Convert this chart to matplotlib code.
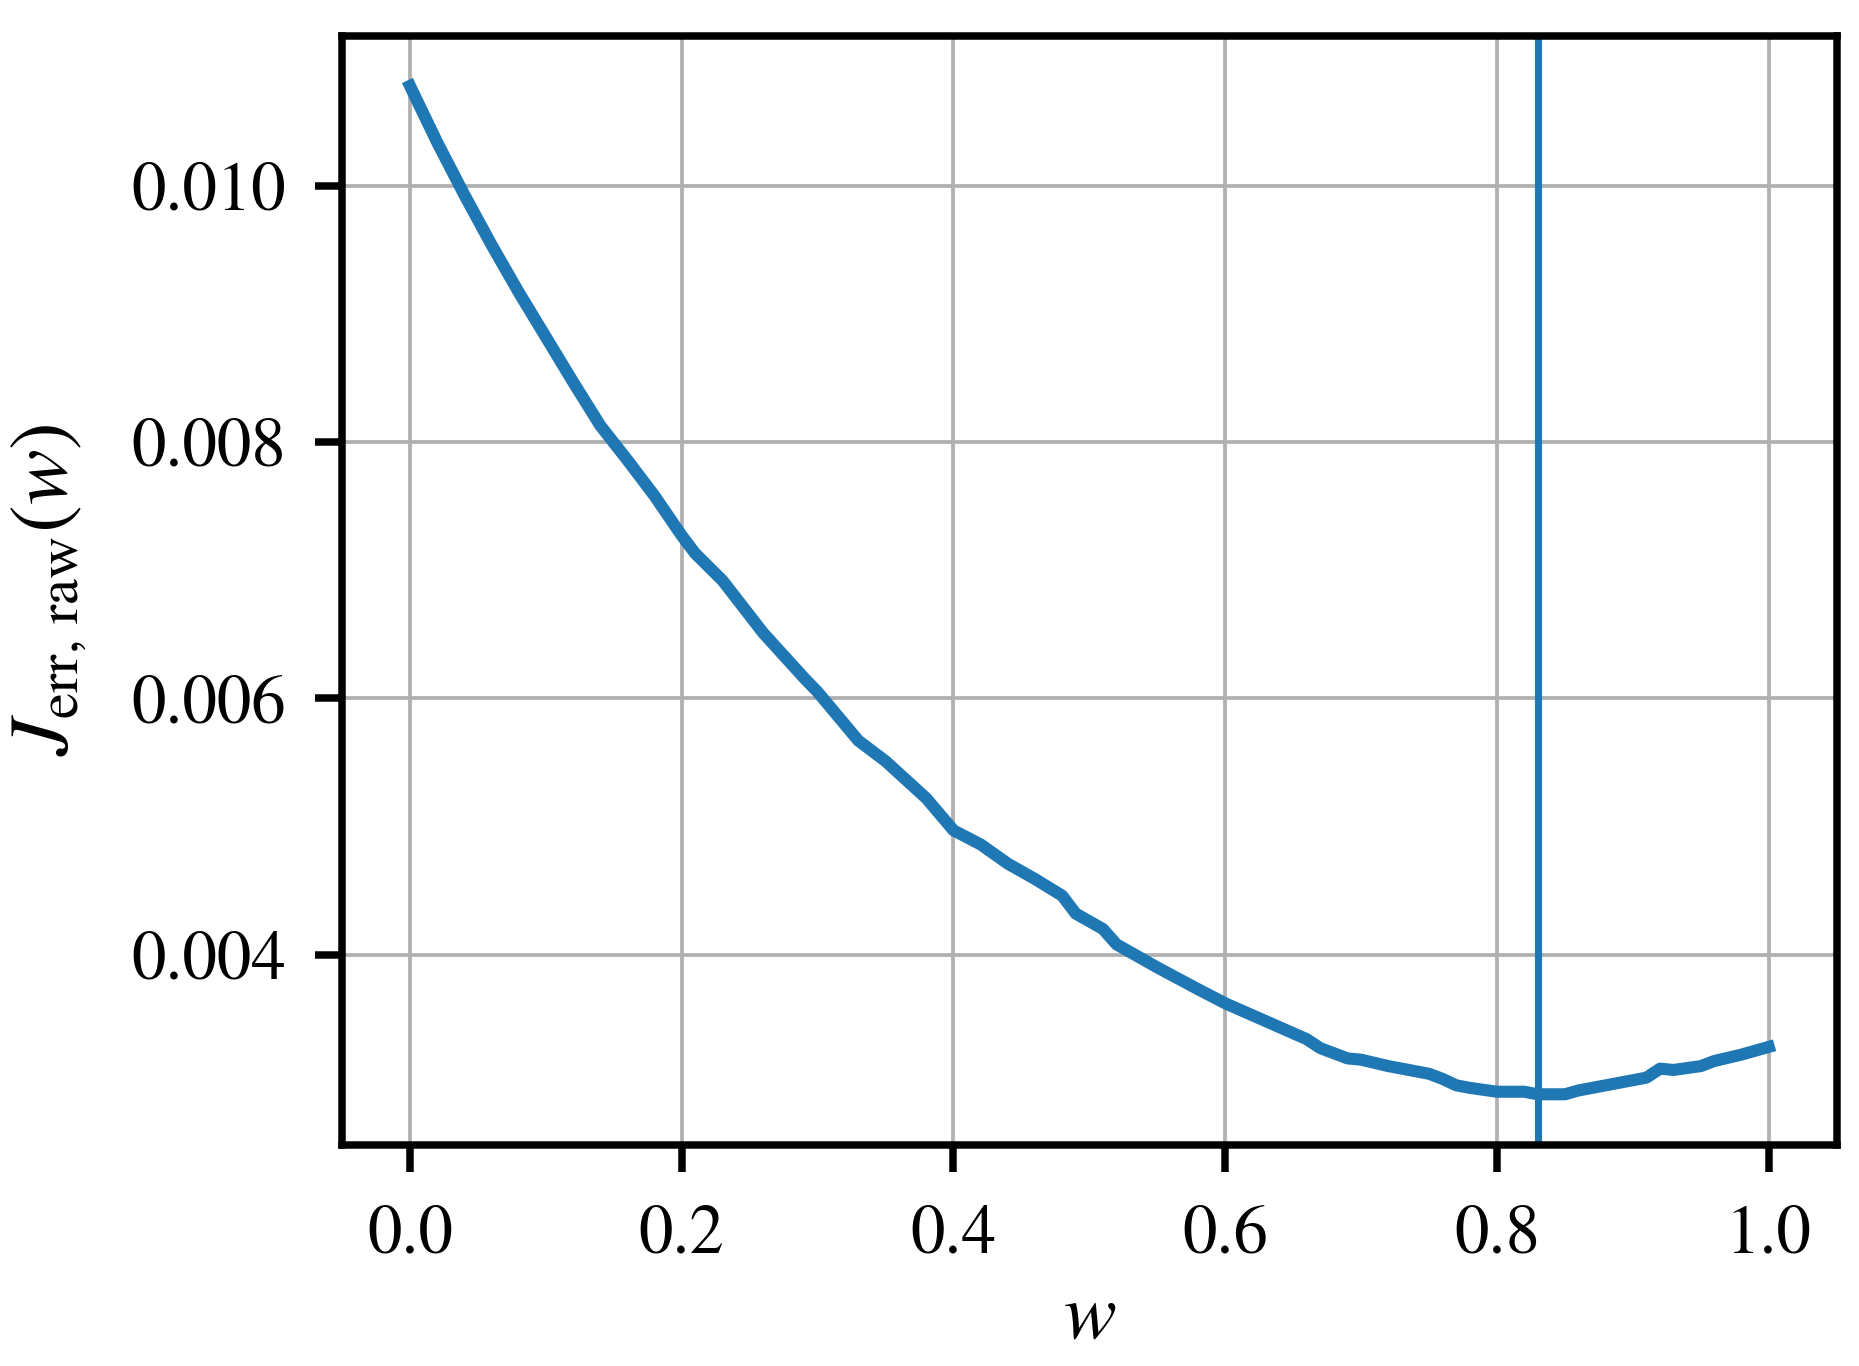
import numpy as np
import matplotlib
matplotlib.use('Agg')
from matplotlib import pyplot as plt

# 読み取った値
w_vals = [0.00, 0.02, 0.04, 0.06, 0.08, 0.10, 0.12, 0.14, 0.16, 0.18,
          0.20, 0.21, 0.23, 0.26, 0.29, 0.30, 0.33, 0.35, 0.38, 0.40,
          0.42, 0.44, 0.46, 0.48, 0.49, 0.51, 0.52, 0.55, 0.58, 0.60,
          0.63, 0.66, 0.67, 0.69, 0.70, 0.72, 0.73, 0.75, 0.76, 0.77,
          0.78, 0.80, 0.82, 0.83, 0.85, 0.86, 0.87, 0.89, 0.91, 0.92,
          0.93, 0.95, 0.96, 0.98, 1.00]
j_vals = [0.01078, 0.01034, 0.00993, 0.00954, 0.00917, 0.00882, 0.00847, 0.00813, 0.00786, 0.00758,
          0.00727, 0.00713, 0.00692, 0.00651, 0.00616, 0.00605, 0.00567, 0.00551, 0.00522, 0.00497,
          0.00486, 0.00471, 0.00459, 0.00446, 0.00432, 0.00420, 0.00408, 0.00390, 0.00373, 0.00362,
          0.00348, 0.00334, 0.00327, 0.00319, 0.00318, 0.00313, 0.00311, 0.00307, 0.00303, 0.00298,
          0.00296, 0.00293, 0.00293, 0.00291, 0.00291, 0.00294, 0.00296, 0.00300, 0.00304, 0.00311,
          0.00310, 0.00313, 0.00317, 0.00322, 0.00328]
w_opt = 0.83
x_ticks = [0.0, 0.2, 0.4, 0.6, 0.8, 1.0]
y_ticks = [0.004, 0.006, 0.008, 0.010]

plt.rcParams['font.family'] = 'STIXGeneral'
plt.rcParams['mathtext.fontset'] = 'stix'
plt.rcParams['font.size'] = 16.5

fig = plt.figure(figsize=(1859 / 300, 1366 / 300), dpi=300)
ax = fig.add_subplot(111)
fig.subplots_adjust(left=0.184, right=0.988, top=0.974, bottom=0.162)

ax.plot(w_vals, j_vals, color='tab:blue', lw=2.9)
ax.axvline(w_opt, color='tab:blue', lw=1.7)

ax.set_xticks(x_ticks)
ax.set_yticks(y_ticks)
ax.set_xticklabels(['%.1f' % t for t in x_ticks])
ax.set_yticklabels(['%.3f' % t for t in y_ticks])
ax.grid(True, color='#b0b0b0', lw=0.9)
ax.set_axisbelow(True)

for s in ax.spines.values():
   s.set_linewidth(1.8)
ax.tick_params(axis='both', length=6.5, width=1.8, labelsize=16.5)
ax.tick_params(axis='x', pad=8)
ax.tick_params(axis='y', pad=7)

ax.set_xlabel(r'$w$', fontsize=19, labelpad=4)
ax.set_ylabel(r'$J_{\mathrm{err,\,raw}}(w)$', fontsize=20, labelpad=10)

fig.savefig('out.png', dpi=300)
plt.close()
